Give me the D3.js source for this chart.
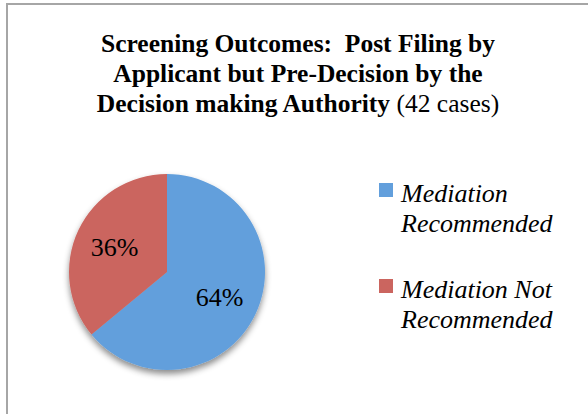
<!DOCTYPE html>
<html>
<head>
<meta charset="utf-8">
<script src="https://cdn.jsdelivr.net/npm/d3@7"></script>
<style>
  body { margin: 0; background: #fff; }
  svg { display: block; }
  text { white-space: pre; }
</style>
</head>
<body>
<div id="chart"></div>
<script>
// data
const categories = ["Mediation Recommended", "Mediation Not Recommended"];
const values = [64, 36];
const colors = ["#629fdc", "#cb655f"];
const legendLines = [["Mediation", "Recommended"], ["Mediation Not", "Recommended"]];
const titleLines = ["Screening Outcomes:  Post Filing by", "Applicant but Pre-Decision by the", "Decision making Authority"];
const titleSuffix = " (42 cases)";

const width = 588, height = 414;
const serif = "Liberation Serif";

const svg = d3.select("#chart").append("svg")
  .attr("width", width)
  .attr("height", height);

// chart frame (only top/left visible in the crop)
svg.append("rect")
  .attr("x", 7).attr("y", 4)
  .attr("width", width + 10).attr("height", height + 10)
  .attr("fill", "#fff")
  .attr("stroke", "#a6a6a6")
  .attr("stroke-width", 2);

// title
const title = svg.append("text")
  .attr("text-anchor", "middle")
  .attr("font-family", serif)
  .attr("font-size", 25.5)
  .attr("fill", "#000");
titleLines.forEach(function(line, i) {
  title.append("tspan")
    .attr("x", 298)
    .attr("y", 52 + i * 30)
    .attr("font-weight", "bold")
    .text(line);
  if (i === titleLines.length - 1) {
    title.append("tspan").attr("font-weight", "normal").text(titleSuffix);
  }
});

// shadow
const defs = svg.append("defs");
defs.append("filter")
  .attr("id", "shadow")
  .attr("x", "-20%").attr("y", "-20%")
  .attr("width", "140%").attr("height", "140%")
  .append("feDropShadow")
    .attr("dx", 0).attr("dy", 4)
    .attr("stdDeviation", 3)
    .attr("flood-color", "#000")
    .attr("flood-opacity", 0.45);

// pie
const cx = 167, cy = 272, radius = 98;
const pie = d3.pie().sort(null).value(d => d.value);
const data = categories.map((c, i) => ({name: c, value: values[i], color: colors[i]}));
const arcs = pie(data);
const arc = d3.arc().innerRadius(0).outerRadius(radius);
const labelArc = d3.arc().innerRadius(58).outerRadius(58);

const g = svg.append("g").attr("transform", `translate(${cx}, ${cy})`);
g.append("g")
  .attr("filter", "url(#shadow)")
  .selectAll("path")
  .data(arcs)
  .join("path")
    .attr("d", arc)
    .attr("fill", d => d.data.color);

g.selectAll("text.lbl")
  .data(arcs)
  .join("text")
    .attr("class", "lbl")
    .attr("transform", d => `translate(${labelArc.centroid(d)})`)
    .attr("text-anchor", "middle")
    .attr("dy", "0.35em")
    .attr("font-family", serif)
    .attr("font-size", 26)
    .text(d => d.data.value + "%");

// legend
const legend = svg.append("g").attr("transform", "translate(379, 183)");
const item = legend.selectAll("g")
  .data(data)
  .join("g")
    .attr("transform", (d, i) => `translate(0, ${i * 96})`);
item.append("rect")
  .attr("width", 14).attr("height", 14)
  .attr("fill", d => d.color);
item.each(function(d, i) {
  const txt = d3.select(this).append("text")
    .attr("font-family", serif)
    .attr("font-size", 26)
    .attr("font-style", "italic");
  legendLines[i].forEach(function(line, j) {
    txt.append("tspan")
      .attr("x", 22)
      .attr("y", 19 + j * 30)
      .text(line);
  });
});
</script>
</body>
</html>
